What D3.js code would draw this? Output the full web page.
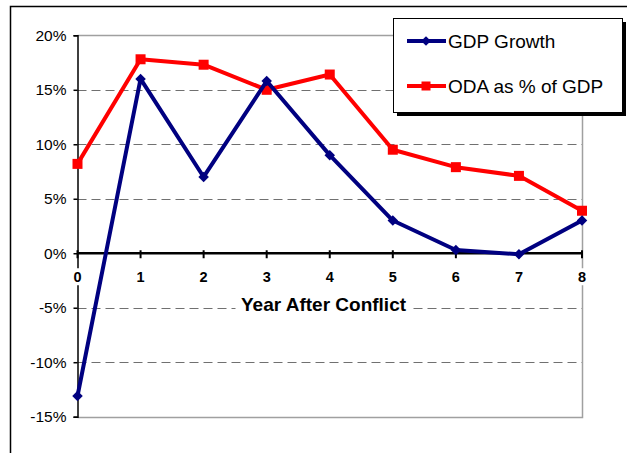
<!DOCTYPE html>
<html>
<head>
<meta charset="utf-8">
<script src="https://cdn.jsdelivr.net/npm/d3@7"></script>
<style>
body { margin: 0; background: #fff; }
text { font-family: "Liberation Sans", Arial, sans-serif; }
</style>
</head>
<body>
<svg id="chart"></svg>
<script>
var years = [0, 1, 2, 3, 4, 5, 6, 7, 8];
var gdpGrowth = [-13.1, 16.0, 7.0, 15.8, 9.0, 3.0, 0.3, -0.1, 3.0];
var odaShare = [8.2, 17.8, 17.3, 15.0, 16.4, 9.5, 7.9, 7.1, 3.9];
var yTicks = [-15, -10, -5, 0, 5, 10, 15, 20];
var seriesNames = ['GDP Growth', 'ODA as % of GDP'];

var W = 627, H = 453;
var svg = d3.select('#chart').attr('width', W).attr('height', H);

// outer frame
svg.append('rect')
    .attr('x', 10.5).attr('y', 6.5)
    .attr('width', W + 10).attr('height', H + 10)
    .attr('fill', '#fff').attr('stroke', '#000').attr('stroke-width', 1.5);

var pLeft = 77.5, pRight = 582, pTop = 35.3, pBottom = 416.7;

var x = d3.scaleLinear().domain([0, 8]).range([pLeft, pRight]);
var y = d3.scaleLinear().domain([-15, 20]).range([pBottom, pTop]);

// grid lines
svg.selectAll('.grid')
    .data(yTicks.filter(function(d){ return d != 0 && d != -15 && d != 20; }))
    .enter().append('line')
    .attr('class', 'grid')
    .attr('x1', pLeft).attr('x2', pRight)
    .attr('y1', function(d){ return Math.round(y(d)) + 0.5; })
    .attr('y2', function(d){ return Math.round(y(d)) + 0.5; })
    .attr('stroke', '#707070').attr('stroke-width', 1.2)
    .attr('stroke-dasharray', '9,5');

// plot border (top, right, bottom)
svg.append('path')
    .attr('d', 'M' + pLeft + ',' + (Math.round(pTop) + 0.5) +
        'H' + (pRight + 0.5) + 'V' + (Math.round(pBottom) + 0.5) + 'H' + pLeft)
    .attr('fill', 'none').attr('stroke', '#a0a0a0').attr('stroke-width', 1.5);

// y axis
var yAxis = d3.axisLeft(y).tickValues(yTicks).tickSize(4).tickPadding(7)
    .tickFormat(function(d){ return d + '%'; });
var gy = svg.append('g').attr('transform', 'translate(' + pLeft + ',0)').call(yAxis);
gy.select('.domain').attr('stroke', '#000').attr('stroke-width', 1.5);
gy.selectAll('.tick line').attr('stroke', '#000').attr('stroke-width', 1.5);
gy.selectAll('.tick text').attr('font-size', 15.5).attr('fill', '#000')
    .attr('font-family', '"Liberation Sans", Arial, sans-serif');

// x tick labels with white background
var xl = svg.selectAll('.xlab').data(years).enter().append('g')
    .attr('transform', function(d){ return 'translate(' + x(d) + ',' + (y(0) + 29) + ')'; });
xl.append('rect').attr('x', -6).attr('y', -14).attr('width', 12).attr('height', 17).attr('fill', '#fff');
xl.append('text').attr('text-anchor', 'middle')
    .attr('font-size', 14.5).attr('font-weight', 'bold').text(function(d){ return d; });

// axis title
var tg = svg.append('g').attr('transform', 'translate(' + 323.5 + ',' + (y(0) + 58) + ')');
tg.append('rect').attr('x', -88).attr('y', -16).attr('width', 176).attr('height', 22).attr('fill', '#fff');
tg.append('text').attr('text-anchor', 'middle').attr('font-size', 19).attr('font-weight', 'bold')
    .text('Year After Conflict');

// zero axis with ticks
svg.append('line')
    .attr('x1', pLeft).attr('x2', pRight)
    .attr('y1', y(0)).attr('y2', y(0))
    .attr('stroke', '#000').attr('stroke-width', 2.5);
svg.selectAll('.xtick').data(years).enter().append('line')
    .attr('x1', function(d){ return x(d); }).attr('x2', function(d){ return x(d); })
    .attr('y1', y(0) - 3).attr('y2', y(0) + 5)
    .attr('stroke', '#000').attr('stroke-width', 2);

var line = d3.line()
    .x(function(d, i){ return x(years[i]); })
    .y(function(d){ return y(d); });

// ODA series
svg.append('path').datum(odaShare).attr('d', line)
    .attr('fill', 'none').attr('stroke', '#ff0000').attr('stroke-width', 4)
    .attr('stroke-linejoin', 'round');
svg.selectAll('.oda').data(odaShare).enter().append('rect')
    .attr('x', function(d, i){ return x(years[i]) - 5; })
    .attr('y', function(d){ return y(d) - 5; })
    .attr('width', 10).attr('height', 10).attr('fill', '#ff0000');

// GDP series
svg.append('path').datum(gdpGrowth).attr('d', line)
    .attr('fill', 'none').attr('stroke', '#000080').attr('stroke-width', 4)
    .attr('stroke-linejoin', 'round');
svg.selectAll('.gdp').data(gdpGrowth).enter().append('path')
    .attr('d', d3.symbol(d3.symbolDiamond2, 70))
    .attr('transform', function(d, i){ return 'translate(' + x(years[i]) + ',' + y(d) + ')'; })
    .attr('fill', '#000080');

// legend
var lg = svg.append('g').attr('transform', 'translate(393,18)');
lg.append('rect').attr('x', 4).attr('y', 4).attr('width', 229).attr('height', 94).attr('fill', '#000');
lg.append('rect').attr('x', 0.5).attr('y', 0.5).attr('width', 229).attr('height', 94)
    .attr('fill', '#fff').attr('stroke', '#000').attr('stroke-width', 1);

var colors = ['#000080', '#ff0000'];
seriesNames.forEach(function(name, i){
    var yy = 23 + i * 45;
    lg.append('line').attr('x1', 14).attr('x2', 53).attr('y1', yy).attr('y2', yy)
        .attr('stroke', colors[i]).attr('stroke-width', 4);
    if (i == 0) {
        lg.append('path').attr('d', d3.symbol(d3.symbolDiamond2, 60))
            .attr('transform', 'translate(33,' + yy + ')').attr('fill', colors[i]);
    } else {
        lg.append('rect').attr('x', 28.5).attr('y', yy - 4.5).attr('width', 9).attr('height', 9)
            .attr('fill', colors[i]);
    }
    lg.append('text').attr('x', 55).attr('y', yy + 7).attr('font-size', 19).text(name);
});
</script>
</body>
</html>
